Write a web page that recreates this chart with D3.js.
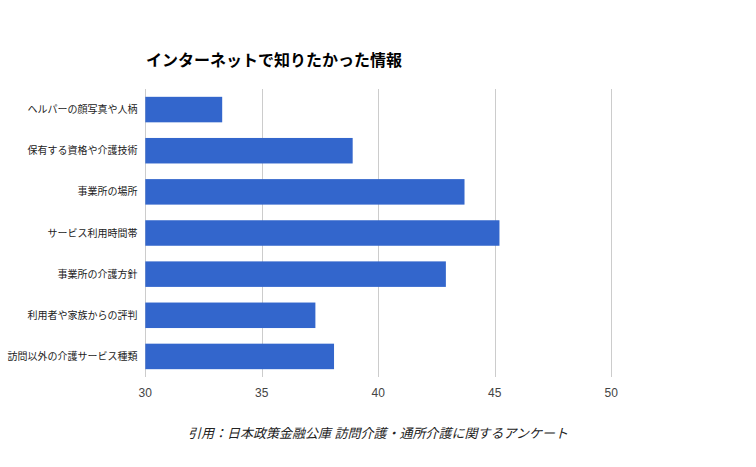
<!DOCTYPE html>
<html>
<head>
<meta charset="utf-8">
<script src="https://d3js.org/d3.v7.min.js"></script>
<style>
  body { margin: 0; background: #fff; }
  text { font-family: Arial, "Liberation Sans", "Noto Sans CJK JP", sans-serif; }
</style>
</head>
<body>
<div id="chart"></div>
<script>
// chart data
var categories = ["ヘルパーの顔写真や人柄", "保有する資格や介護技術", "事業所の場所", "サービス利用時間帯",
                  "事業所の介護方針", "利用者や家族からの評判", "訪問以外の介護サービス種類"];
var values = [33.3, 38.9, 43.7, 45.2, 42.9, 37.3, 38.1];
var ticks = [30, 35, 40, 45, 50];
var title = "インターネットで知りたかった情報";
var caption = "引用：日本政策金融公庫 訪問介護・通所介護に関するアンケート";

var width = 756, height = 467;
var margin = {top: 89, left: 145.3, right: 756 - 611.3, bottom: 467 - 377};

var svg = d3.select("#chart").append("svg")
    .attr("width", width)
    .attr("height", height);

var x = d3.scaleLinear()
    .domain([30, 50])
    .range([margin.left, width - margin.right]);

var y = d3.scaleBand()
    .domain(categories)
    .range([margin.top, height - margin.bottom])
    .paddingInner(0.38)
    .paddingOuter(0.19);

// gridlines
svg.append("g")
    .selectAll("line")
    .data(ticks)
    .enter()
    .append("line")
    .attr("x1", function (d) { return Math.round(x(d)) + 0.5; })
    .attr("x2", function (d) { return Math.round(x(d)) + 0.5; })
    .attr("y1", margin.top)
    .attr("y2", height - margin.bottom)
    .style("stroke", "#cccccc")
    .style("stroke-width", 1);

// bars
svg.append("g")
    .selectAll("rect")
    .data(values)
    .enter()
    .append("rect")
    .attr("x", x(30))
    .attr("y", function (d, i) { return y(categories[i]); })
    .attr("width", function (d) { return x(d) - x(30); })
    .attr("height", y.bandwidth())
    .style("fill", "#3366cc");

// x tick labels
svg.append("g")
    .selectAll("text")
    .data(ticks)
    .enter()
    .append("text")
    .attr("x", function (d) { return x(d); })
    .attr("y", 397)
    .attr("text-anchor", "middle")
    .style("font-size", "12px")
    .style("fill", "#444444")
    .text(function (d) { return d; });

// y category labels
svg.append("g")
    .selectAll("text")
    .data(categories)
    .enter()
    .append("text")
    .attr("x", 137.5)
    .attr("y", function (d) { return y(d) + y.bandwidth() / 2; })
    .attr("dy", "0.35em")
    .attr("text-anchor", "end")
    .style("font-size", "10px")
    .style("fill", "#222222")
    .text(function (d) { return d; });

// title
svg.append("text")
    .attr("x", 146)
    .attr("y", 66)
    .style("font-size", "16px")
    .style("font-weight", "bold")
    .style("fill", "#000000")
    .text(title);

// caption
svg.append("text")
    .attr("x", 378)
    .attr("y", 438)
    .attr("text-anchor", "middle")
    .style("font-size", "13px")
    .style("font-style", "italic")
    .style("fill", "#222222")
    .text(caption);
</script>
</body>
</html>
